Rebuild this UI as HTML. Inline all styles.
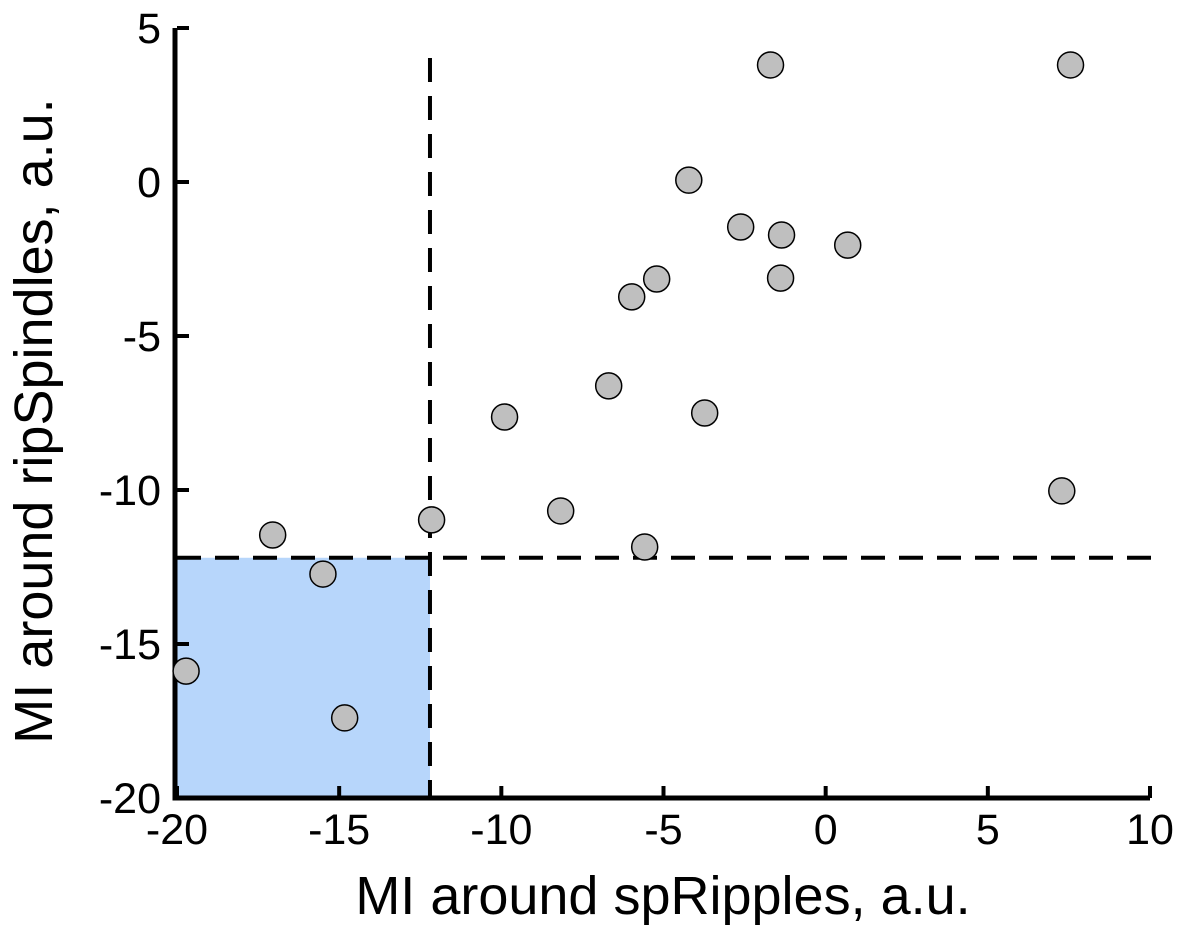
<!DOCTYPE html>
<html><head><meta charset="utf-8"><style>
html,body{margin:0;padding:0;background:#fff;}
svg{display:block;font-family:"Liberation Sans",Arial,sans-serif;}
</style></head><body>
<svg id="chart" width="1180" height="937" viewBox="0 0 1180 937">
<g id="shade"></g><g id="dash"></g><g id="axes"></g><g id="pts"></g>
<text x="663" y="914" font-size="54" text-anchor="middle">MI around spRipples, a.u.</text>
<text transform="translate(52,421) rotate(-90)" font-size="54" text-anchor="middle">MI around ripSpindles, a.u.</text>
</svg>
<script>
const xVals=[-1.7,7.55,-4.22,-2.62,-1.36,0.68,-1.39,-5.21,-5.98,-6.69,-9.9,-3.73,-8.17,-12.15,-5.58,7.28,-17.05,-15.5,-19.72,-14.83];
const yVals=[3.8,3.8,0.06,-1.46,-1.72,-2.05,-3.12,-3.15,-3.73,-6.62,-7.63,-7.5,-10.68,-10.97,-11.85,-10.03,-11.46,-12.73,-15.88,-17.4];
const xTicks=[-20,-15,-10,-5,0,5,10];
const yTicks=[5,0,-5,-10,-15,-20];
const threshX=-12.2, threshY=-12.2;
const X0=177,X1=1150,Y0=798,Y1=28;
const sx=v=>X0+(v+20)/30*(X1-X0);
const sy=v=>Y0-(v+20)/25*(Y0-Y1);
const NS="http://www.w3.org/2000/svg";
function mk(t,a,p){const e=document.createElementNS(NS,t);for(const k in a)e.setAttribute(k,a[k]);p.appendChild(e);return e;}
const shade=document.getElementById('shade'),dash=document.getElementById('dash'),axes=document.getElementById('axes'),pts=document.getElementById('pts');
let r=mk('rect',{x:sx(-20),y:sy(threshY),width:sx(threshX)-sx(-20),height:sy(-20)-sy(threshY),fill:'#b7d6fb'},shade);


let l=mk('line',{x1:sx(threshX),x2:sx(threshX),y1:58,y2:Y0,stroke:'#000','stroke-width':4,'stroke-dasharray':'24,14'},dash);


l=mk('line',{x1:X0,x2:X1+5,y1:sy(threshY),y2:sy(threshY),stroke:'#000','stroke-width':4,'stroke-dasharray':'24,14'},dash);


l=mk('path',{d:`M${X0-2},${Y1}V${Y0}H${X1}`,fill:'none',stroke:'#000','stroke-width':5},axes);


xTicks.forEach(v=>{mk('line',{x1:sx(v),x2:sx(v),y1:Y0,y2:Y0-12,stroke:'#000','stroke-width':4},axes);
 const t=mk('text',{x:sx(v),y:Y0+46,'font-size':43,'text-anchor':'middle'},axes);t.textContent=v;
 
 });
yTicks.forEach(v=>{mk('line',{x1:X0,x2:X0+12,y1:sy(v),y2:sy(v),stroke:'#000','stroke-width':4},axes);
 const t=mk('text',{x:X0-16,y:sy(v)+15,'font-size':43,'text-anchor':'end'},axes);t.textContent=v;
 
 });
xVals.forEach((v,i)=>{const c=mk('circle',{cx:sx(v),cy:sy(yVals[i]),r:13,fill:'#bfbfbf',stroke:'#000','stroke-width':1.5},pts);
 
 });
</script>
</body></html>
